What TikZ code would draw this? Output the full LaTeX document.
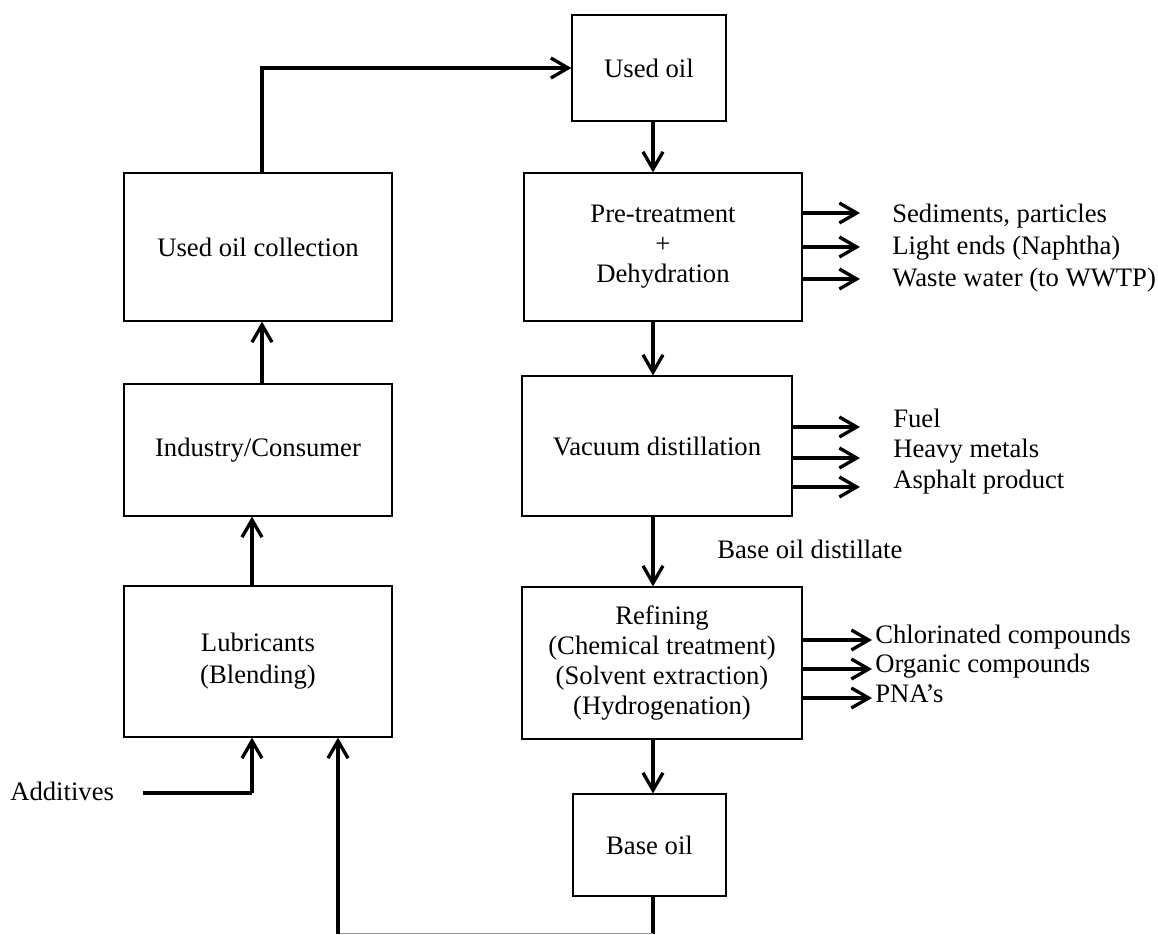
\documentclass[tikz,border=0pt]{standalone}
\usepackage{fontspec}
\setmainfont{Liberation Serif}
\usetikzlibrary{arrows.meta}
\begin{document}
\begin{tikzpicture}[x=0.75pt,y=-0.75pt,
  box/.style={draw, line width=0.8pt, inner sep=0pt, align=center, font=\fontsize{20}{22.5}\selectfont},
  flow/.style={line width=2.5pt, -{Straight Barb[length=13pt,width=15pt,line width=2.5pt]}},
  plain/.style={line width=2.5pt},
  thinline/.style={line width=1pt, draw=black!40},
  lbl/.style={anchor=base west, inner sep=0pt, font=\fontsize{20}{24}\selectfont},
]
\useasboundingbox (0,0) rectangle (1158,935);
% right column
\node[box, minimum width=115.5pt, minimum height=79.5pt] (used) at (649,68) {Used oil};
\node[box, minimum width=208.5pt, minimum height=111pt] (pre) at (663,247) {Pre-treatment\\+\\Dehydration};
\node[box, minimum width=202.5pt, minimum height=105pt] (vac) at (657,446) {Vacuum distillation};
\node[box, minimum width=210pt, minimum height=114pt] (ref) at (662,663) {Refining\\(Chemical treatment)\\(Solvent extraction)\\(Hydrogenation)};
\node[box, minimum width=114.75pt, minimum height=76.5pt] (base) at (649.5,845) {Base oil};
% left column
\node[box, minimum width=201pt, minimum height=111pt] (coll) at (258,247) {Used oil collection};
\node[box, minimum width=201pt, minimum height=99pt] (ind) at (258,450) {Industry/Consumer};
\node[box, minimum width=201pt, minimum height=113.25pt, font=\fontsize{20}{24}\selectfont] (lub) at (258,661.5) {Lubricants\\(Blending)};
% labels
\node[lbl] (s1) at (892,222) {Sediments, particles};
\node[lbl] (s2) at (892,254) {Light ends (Naphtha)};
\node[lbl] (s3) at (892,286) {Waste water (to WWTP)};
\node[lbl] (v1) at (893,427) {Fuel};
\node[lbl] (v2) at (893,457) {Heavy metals};
\node[lbl] (v3) at (893,488) {Asphalt product};
\node[lbl] (r1) at (875,643) {Chlorinated compounds};
\node[lbl] (r2) at (875,672) {Organic compounds};
\node[lbl] (r3) at (875,702) {PNA’s};
\node[lbl] (bod) at (717,558) {Base oil distillate};
\node[lbl] (add) at (10,800) {Additives};
% coordinates
\coordinate (col) at (653,0);
\coordinate (e1) at (860,213);
\coordinate (e2) at (860,247);
\coordinate (e3) at (860,279);
\coordinate (f1) at (860,427);
\coordinate (f2) at (860,458);
\coordinate (f3) at (860,487);
\coordinate (g1) at (872,640);
\coordinate (g2) at (872,669);
\coordinate (g3) at (872,698);
\coordinate (b1) at (653,933.5);
\coordinate (b2) at (338,933.5);
\coordinate (a1) at (143,793);
\coordinate (a2) at (252,793);
% main flow
\draw[flow] ([xshift=3pt]coll.north) |- (used.west);
\draw[flow] (used.south -| col) -- (pre.north -| col);
\draw[flow] (pre.south -| col) -- (vac.north -| col);
\draw[flow] (vac.south -| col) -- (ref.north -| col);
\draw[flow] (ref.south -| col) -- (base.north -| col);
\draw[plain] (base.south -| col) -- (b1);
\draw[thinline] (b1) -- (b2);
\draw[flow] (b2) -- (lub.south -| b2);
\draw[plain] (a1) -- (a2);
\draw[flow] (a2) -- (lub.south -| a2);
\draw[flow] ([xshift=-4.5pt]lub.north) -- ([xshift=-4.5pt]ind.south);
\draw[flow] ([xshift=3pt]ind.north) -- ([xshift=3pt]coll.south);
% side outputs
\draw[flow] (pre.east |- e1) -- (e1);
\draw[flow] (pre.east |- e2) -- (e2);
\draw[flow] (pre.east |- e3) -- (e3);
\draw[flow] (vac.east |- f1) -- (f1);
\draw[flow] (vac.east |- f2) -- (f2);
\draw[flow] (vac.east |- f3) -- (f3);
\draw[flow] (ref.east |- g1) -- (g1);
\draw[flow] (ref.east |- g2) -- (g2);
\draw[flow] (ref.east |- g3) -- (g3);
\end{tikzpicture}
\end{document}
